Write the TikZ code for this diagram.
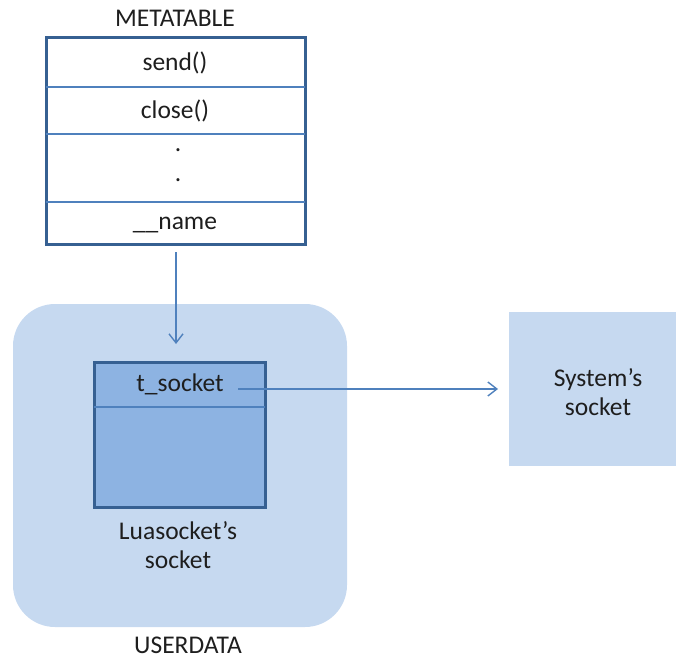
\documentclass[tikz,border=0pt]{standalone}
\usepackage{fontspec}
\setmainfont{Carlito}
\usetikzlibrary{arrows.meta}
\definecolor{boxblue}{RGB}{198,217,240}
\definecolor{sockblue}{RGB}{141,179,226}
\definecolor{edgeblue}{RGB}{54,96,146}
\definecolor{lineblue}{RGB}{79,129,189}
\definecolor{textgray}{RGB}{30,30,30}

\tikzset{
  label text/.style={text=textgray, font=\fontsize{25.5}{29}\selectfont, align=center},
  link/.style={draw=lineblue, line width=1.4pt, -{Straight Barb[length=9pt,width=14pt,line width=1.4pt]}},
  row line/.style={draw=lineblue, line width=1.3pt}
}

\begin{document}
\begin{tikzpicture}[x=1pt,y=-1pt]
    \useasboundingbox (0,0) rectangle (676,660);

    % metatable with its rows
    \node[label text] (metatitle) at (175,18) {METATABLE};
    \draw[fill=white, draw=edgeblue, line width=3pt] (46,38) rectangle (305,244);
    \draw[row line] (46,87) -- (305,87);
    \draw[row line] (46,134) -- (305,134);
    \draw[row line] (46,202) -- (305,202);
    \node[label text] (send) at (175,63) {send()};
    \node[label text] (close) at (175,111) {close()};
    \node[label text] (dotA) at (178,150) {.};
    \node[label text] (dotB) at (178,180) {.};
    \node[label text] (name) at (175,225) {\_\_name};
    \coordinate (metabottom) at (176,252);

    % userdata area
    \fill[boxblue, rounded corners=42pt] (13,304) rectangle (347,627);
    \node[label text] (userdata) at (188,645) {USERDATA};

    % luasocket's socket
    \draw[fill=sockblue, draw=edgeblue, line width=3pt] (94,362) rectangle (265,507);
    \draw[row line] (94,407) -- (265,407);
    \node[label text] (tsocket) at (180,384) {t\_socket};
    \node[label text] (luasock) at (178,545) {Luasocket’s\\socket};
    \coordinate (sockettop) at (176,344);
    \coordinate (tsockout) at (238,389);

    % system's socket
    \fill[boxblue] (509,312) rectangle (676,466);
    \node[label text] (syssock) at (598,392) {System’s\\socket};
    \coordinate (sysleft) at (498,389);

    % links
    \draw[link] (metabottom) -- (sockettop);
    \draw[link] (tsockout) -- (sysleft);
\end{tikzpicture}
\end{document}
